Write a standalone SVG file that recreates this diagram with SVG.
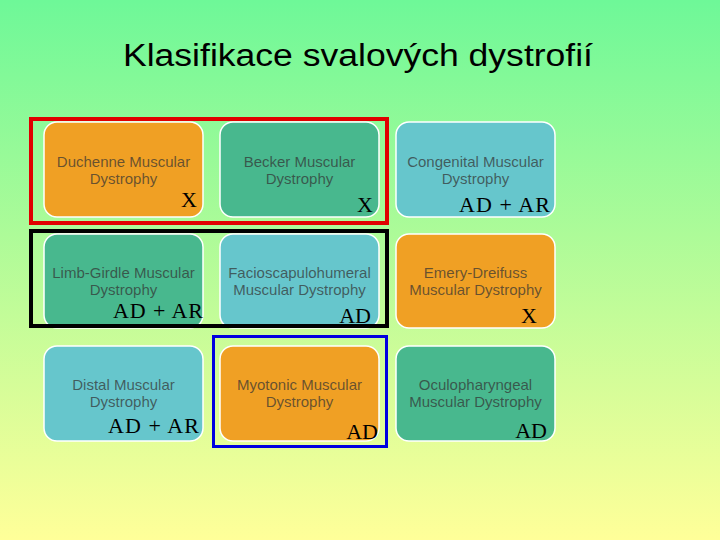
<svg xmlns="http://www.w3.org/2000/svg" width="720" height="540" viewBox="0 0 720 540">
<defs>
<linearGradient id="bg" x1="0" y1="0" x2="0" y2="1">
<stop offset="0" stop-color="#6EF898"/>
<stop offset="1" stop-color="#FFFF99"/>
</linearGradient>
</defs>
<style>
.box{stroke:#FFFFFF;stroke-width:1.5}
.or{fill:#F0A024}
.tl{fill:#48B88E}
.cy{fill:#66C6CC}
.t{font-family:"Liberation Sans",Arial,sans-serif;font-size:15px;fill:#333333;fill-opacity:0.72;text-anchor:middle}
.lb{font-family:"Liberation Serif","Times New Roman",serif;font-size:22px;fill:#000000;text-anchor:end}
.title{font-family:"Liberation Sans",Arial,sans-serif;font-size:31px;fill:#000000}
.frame{fill:none}
</style>
<rect x="0" y="0" width="720" height="540" fill="url(#bg)"/>
<text class="title" x="123" y="66" textLength="470" lengthAdjust="spacingAndGlyphs">Klasifikace svalových dystrofií</text>

<g id="duchenne">
<rect class="box or" x="44" y="122" width="159" height="95" rx="13"/>
<text class="t" x="123.5" y="167">Duchenne Muscular</text>
<text class="t" x="123.5" y="184">Dystrophy</text>
<text class="lb" x="197" y="207">X</text>
</g>
<g id="becker">
<rect class="box tl" x="220" y="122" width="159" height="95" rx="13"/>
<text class="t" x="299.5" y="167">Becker Muscular</text>
<text class="t" x="299.5" y="184">Dystrophy</text>
<text class="lb" x="373" y="212">X</text>
</g>
<g id="congenital">
<rect class="box cy" x="396" y="122" width="159" height="95" rx="13"/>
<text class="t" x="475.5" y="167">Congenital Muscular</text>
<text class="t" x="475.5" y="184">Dystrophy</text>
<text class="lb" x="550" y="212" textLength="91" lengthAdjust="spacing">AD + AR</text>
</g>

<g id="limbgirdle">
<rect class="box tl" x="44" y="234" width="159" height="94" rx="13"/>
<text class="t" x="123.5" y="278">Limb-Girdle Muscular</text>
<text class="t" x="123.5" y="295">Dystrophy</text>
<text class="lb" x="203" y="318" textLength="90" lengthAdjust="spacing">AD + AR</text>
</g>
<g id="fshd">
<rect class="box cy" x="220" y="234" width="159" height="94" rx="13"/>
<text class="t" x="299.5" y="278">Facioscapulohumeral</text>
<text class="t" x="299.5" y="295">Muscular Dystrophy</text>
<text class="lb" x="371" y="323">AD</text>
</g>
<g id="emery">
<rect class="box or" x="396" y="234" width="159" height="94" rx="13"/>
<text class="t" x="475.5" y="278">Emery-Dreifuss</text>
<text class="t" x="475.5" y="295">Muscular Dystrophy</text>
<text class="lb" x="537" y="323">X</text>
</g>

<g id="distal">
<rect class="box cy" x="44" y="346" width="159" height="95" rx="13"/>
<text class="t" x="123.5" y="390">Distal Muscular</text>
<text class="t" x="123.5" y="407">Dystrophy</text>
<text class="lb" x="199" y="433" textLength="91" lengthAdjust="spacing">AD + AR</text>
</g>
<g id="myotonic">
<rect class="box or" x="220" y="346" width="159" height="95" rx="13"/>
<text class="t" x="299.5" y="390">Myotonic Muscular</text>
<text class="t" x="299.5" y="407">Dystrophy</text>
<text class="lb" x="378" y="439">AD</text>
</g>
<g id="oculo">
<rect class="box tl" x="396" y="346" width="159" height="95" rx="13"/>
<text class="t" x="475.5" y="390">Oculopharyngeal</text>
<text class="t" x="475.5" y="407">Muscular Dystrophy</text>
<text class="lb" x="547" y="438">AD</text>
</g>

<g id="frames">
<rect class="frame" x="31" y="119" width="356" height="104" stroke="#E00000" stroke-width="4"/>
<rect class="frame" x="31" y="231" width="356" height="95" stroke="#000000" stroke-width="4"/>
<rect class="frame" x="213.5" y="336.5" width="173" height="110" stroke="#0000E0" stroke-width="3"/>
</g>
</svg>
